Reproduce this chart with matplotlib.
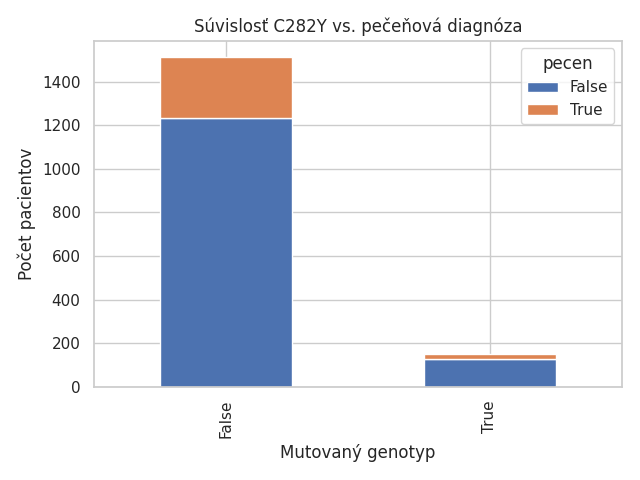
import matplotlib
matplotlib.use("Agg")
import matplotlib.pyplot as plt
import seaborn as sns
import pandas as pd

sns.set_theme(style="whitegrid")

genotyp = [False, True]
pecen_false = [1232, 128]
pecen_true = [280, 22]

tab = pd.DataFrame({False: pecen_false, True: pecen_true}, index=genotyp)
tab.index.name = "Mutovaný genotyp"
tab.columns.name = "pecen"

fig, ax = plt.subplots(figsize=(6.4, 4.8), dpi=100)
tab.plot(kind="bar", stacked=True, ax=ax)
ax.set_title("Súvislosť C282Y vs. pečeňová diagnóza")
ax.set_xlabel("Mutovaný genotyp")
ax.set_ylabel("Počet pacientov")
plt.tight_layout()
plt.savefig("out.png")
